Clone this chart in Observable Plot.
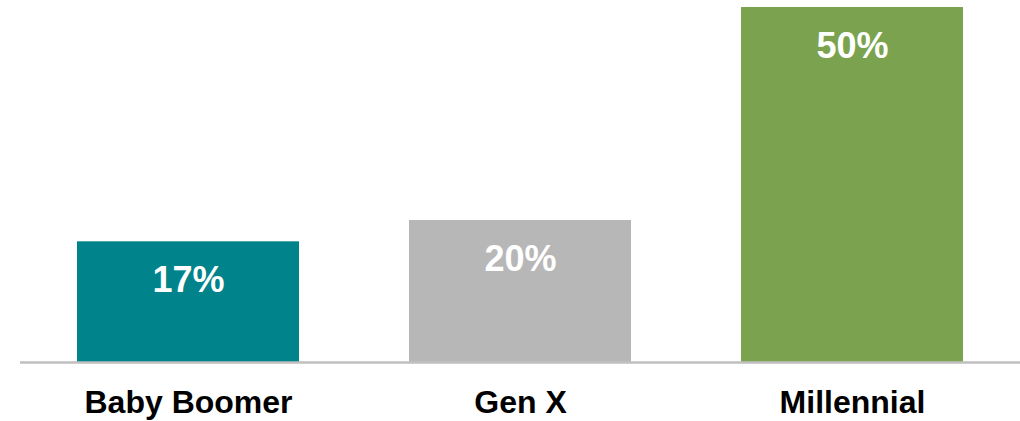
<!DOCTYPE html>
<html>
<head>
<meta charset="utf-8">
<script src="https://cdn.jsdelivr.net/npm/d3@7"></script>
<script src="https://cdn.jsdelivr.net/npm/@observablehq/plot@0.6"></script>
<style>
  html, body { margin: 0; padding: 0; background: #ffffff; }
  #chart svg { display: block; font-family: "Liberation Sans", Arial, sans-serif; }
</style>
</head>
<body>
<div id="chart"></div>
<script>
// Share of each generation (percent)
const generations = ["Baby Boomer", "Gen X", "Millennial"];
const shares = [17, 20, 50];
const barColors = ["#00838A", "#B7B7B7", "#7BA34F"];

const rows = generations.map((g, i) => ({generation: g, share: shares[i]}));

const chart = Plot.plot({
  width: 1020,
  height: 421,
  marginTop: 7,
  marginBottom: 59,
  marginLeft: 20,
  marginRight: 0,
  style: {fontFamily: '"Liberation Sans", Arial, sans-serif', background: "#ffffff"},
  x: {domain: generations, paddingInner: 0.332, paddingOuter: 0.168, label: null},
  y: {domain: [0, 50], axis: null},
  color: {domain: generations, range: barColors},
  marks: [
    Plot.barY(rows, {x: "generation", y: "share", fill: "generation"}),
    Plot.ruleY([0], {stroke: "#BFBFBF", strokeWidth: 2.5}),
    Plot.text(rows, {
      x: "generation",
      y: "share",
      text: d => `${d.share}%`,
      dy: 39,
      fill: "#ffffff",
      fontSize: 36,
      fontWeight: "bold",
      lineAnchor: "middle"
    }),
    Plot.axisX({
      tickSize: 0,
      tickPadding: 28,
      fontSize: 32,
      fontWeight: "bold",
      fill: "#000000",
      label: null
    })
  ]
});

document.getElementById("chart").appendChild(chart);
</script>
</body>
</html>
